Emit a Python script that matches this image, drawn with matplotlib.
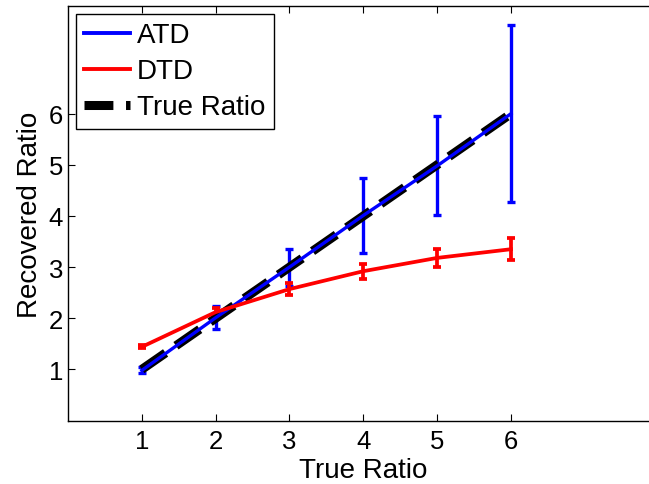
import matplotlib
matplotlib.use("Agg")
import matplotlib.pyplot as plt
from matplotlib.lines import Line2D

true_ratio = [1, 2, 3, 4, 5, 6]

atd_mean = [0.98, 2.01, 3.0, 4.01, 4.98, 6.0]
atd_err = [0.06, 0.23, 0.36, 0.73, 0.97, 1.73]

dtd_mean = [1.44, 2.12, 2.57, 2.92, 3.18, 3.35]
dtd_err = [0.03, 0.08, 0.11, 0.15, 0.18, 0.22]

plt.rcParams['font.family'] = ['Liberation Sans', 'DejaVu Sans']

fig = plt.figure(figsize=(6.49, 4.85), dpi=100)
ax = fig.add_axes([0.1048, 0.1309, 0.91, 0.854])

ax.errorbar(true_ratio, atd_mean, yerr=atd_err, color='#0000ff', linewidth=2.4,
            elinewidth=2.4, capsize=3, capthick=2.4)
ax.errorbar(true_ratio, dtd_mean, yerr=dtd_err, color='#ff0000', linewidth=2.7,
            elinewidth=2.7, capsize=3, capthick=2.7)
ax.plot(true_ratio, true_ratio, color='black', linewidth=6.5, linestyle='--',
        dashes=(3.2, 1.4))

ax.set_xlim(0, 8)
ax.set_ylim(0, 8.1)
ax.set_xticks(true_ratio)
ax.set_yticks([1, 2, 3, 4, 5, 6])
ax.tick_params(direction='in', top=True, right=True, labelsize=18.5, length=5, width=0.8)
ax.tick_params(axis='x', pad=6)
for s in ax.spines.values():
    s.set_linewidth(1.0)

ax.set_xlabel('True Ratio', fontsize=20, labelpad=3)
ax.set_ylabel('Recovered Ratio', fontsize=20, labelpad=4)

handles = [
    Line2D([], [], color='#0000ff', linewidth=2.8),
    Line2D([], [], color='#ff0000', linewidth=2.8),
    Line2D([], [], color='black', linewidth=6.5, linestyle='--', dashes=(3.2, 1.4)),
]
labels = ['ATD', 'DTD', 'True Ratio']
leg = ax.legend(handles, labels, loc='upper left', fontsize=20, frameon=True,
                fancybox=False, edgecolor='black', framealpha=1,
                handlelength=1.65, handletextpad=0.25, borderpad=0.3,
                labelspacing=0.36, borderaxespad=0.28)
leg.get_frame().set_linewidth(1.0)

fig.savefig('out.png', dpi=100)
